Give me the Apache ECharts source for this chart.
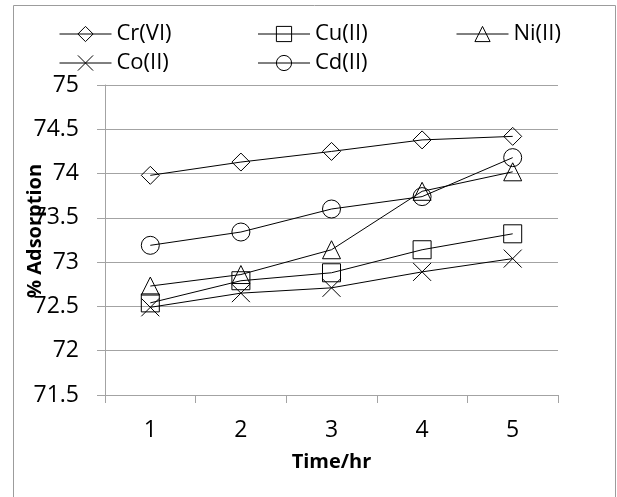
<!DOCTYPE html>
<html>
<head>
<meta charset="utf-8">
<script src="https://cdn.jsdelivr.net/npm/echarts@6/dist/echarts.min.js"></script>
<style>
  html, body { margin: 0; padding: 0; background: #fff; }
  #chart { width: 617px; height: 497px; }
</style>
</head>
<body>
<div id="chart"></div>
<script>
// data
const hours = ['1', '2', '3', '4', '5'];
const crVI = [73.98, 74.13, 74.25, 74.38, 74.42];
const cuII = [72.54, 72.79, 72.88, 73.14, 73.32];
const niII = [72.73, 72.86, 73.14, 73.80, 74.02];
const coII = [72.49, 72.65, 72.71, 72.89, 73.04];
const cdII = [73.19, 73.34, 73.60, 73.74, 74.18];

const gray = '#a3a3a3';
const font = 'Open Sans';

function makeSeries(name, data, symbol) {
    return {
        name: name,
        type: 'line',
        data: data,
        symbol: symbol,
        symbolSize: 18,
        showAllSymbol: true,
        lineStyle: { color: '#000', width: 1 },
        itemStyle: { color: 'transparent', borderColor: '#000', borderWidth: 1 },
        emphasis: { disabled: true },
        animation: false
    };
}

const legendBase = {
    left: 54,
    width: 580,
    orient: 'horizontal',
    itemWidth: 52,
    itemHeight: 19,
    itemGap: 41,
    itemStyle: { borderWidth: 1 },
    lineStyle: { width: 1 },
    textStyle: { fontFamily: font, fontSize: 22, color: '#000', width: 100, lineHeight: 22 },
    selectedMode: false
};

const chart = echarts.init(document.getElementById('chart'));
chart.setOption({
    backgroundColor: '#fff',
    graphic: [{
        type: 'rect',
        shape: { x: 13.5, y: 5.5, width: 602, height: 520 },
        style: { fill: 'none', stroke: '#9c9c9c', lineWidth: 1 },
        silent: true
    }],
    legend: [
        Object.assign({}, legendBase, { top: 18, data: ['Cr(VI)', 'Cu(II)', 'Ni(II)'] }),
        Object.assign({}, legendBase, { top: 47, data: ['Co(II)', 'Cd(II)'] })
    ],
    grid: { left: 105, right: 59, top: 85, bottom: 102, containLabel: false },
    xAxis: {
        type: 'category',
        data: hours,
        boundaryGap: true,
        name: 'Time/hr',
        nameLocation: 'middle',
        nameGap: 57,
        nameMoveOverlap: false,
        nameTextStyle: { fontFamily: font, fontSize: 20, fontWeight: 'bold', color: '#000' },
        axisLine: { lineStyle: { color: gray, width: 1 } },
        axisTick: { show: true, length: 8, lineStyle: { color: gray } },
        axisLabel: { fontFamily: font, fontSize: 23, color: '#000', margin: 24 },
        splitLine: { show: false }
    },
    yAxis: {
        type: 'value',
        min: 71.5,
        max: 75,
        interval: 0.5,
        name: '% Adsorption',
        nameLocation: 'middle',
        nameGap: 60,
        nameMoveOverlap: false,
        nameTextStyle: { fontFamily: font, fontSize: 20, fontWeight: 'bold', color: '#000', padding: [0, 0, 0, 18] },
        axisLine: { show: true, lineStyle: { color: gray, width: 1 } },
        axisTick: { show: true, length: 8, lineStyle: { color: gray } },
        axisLabel: { fontFamily: font, fontSize: 23, color: '#000', margin: 26 },
        splitLine: { show: true, lineStyle: { color: gray, width: 1 } }
    },
    series: [
        makeSeries('Cr(VI)', crVI, 'diamond'),
        makeSeries('Cu(II)', cuII, 'rect'),
        makeSeries('Ni(II)', niII, 'triangle'),
        makeSeries('Co(II)', coII, 'path://M0,0L10,10M10,0L0,10'),
        makeSeries('Cd(II)', cdII, 'circle')
    ]
});
</script>
</body>
</html>
